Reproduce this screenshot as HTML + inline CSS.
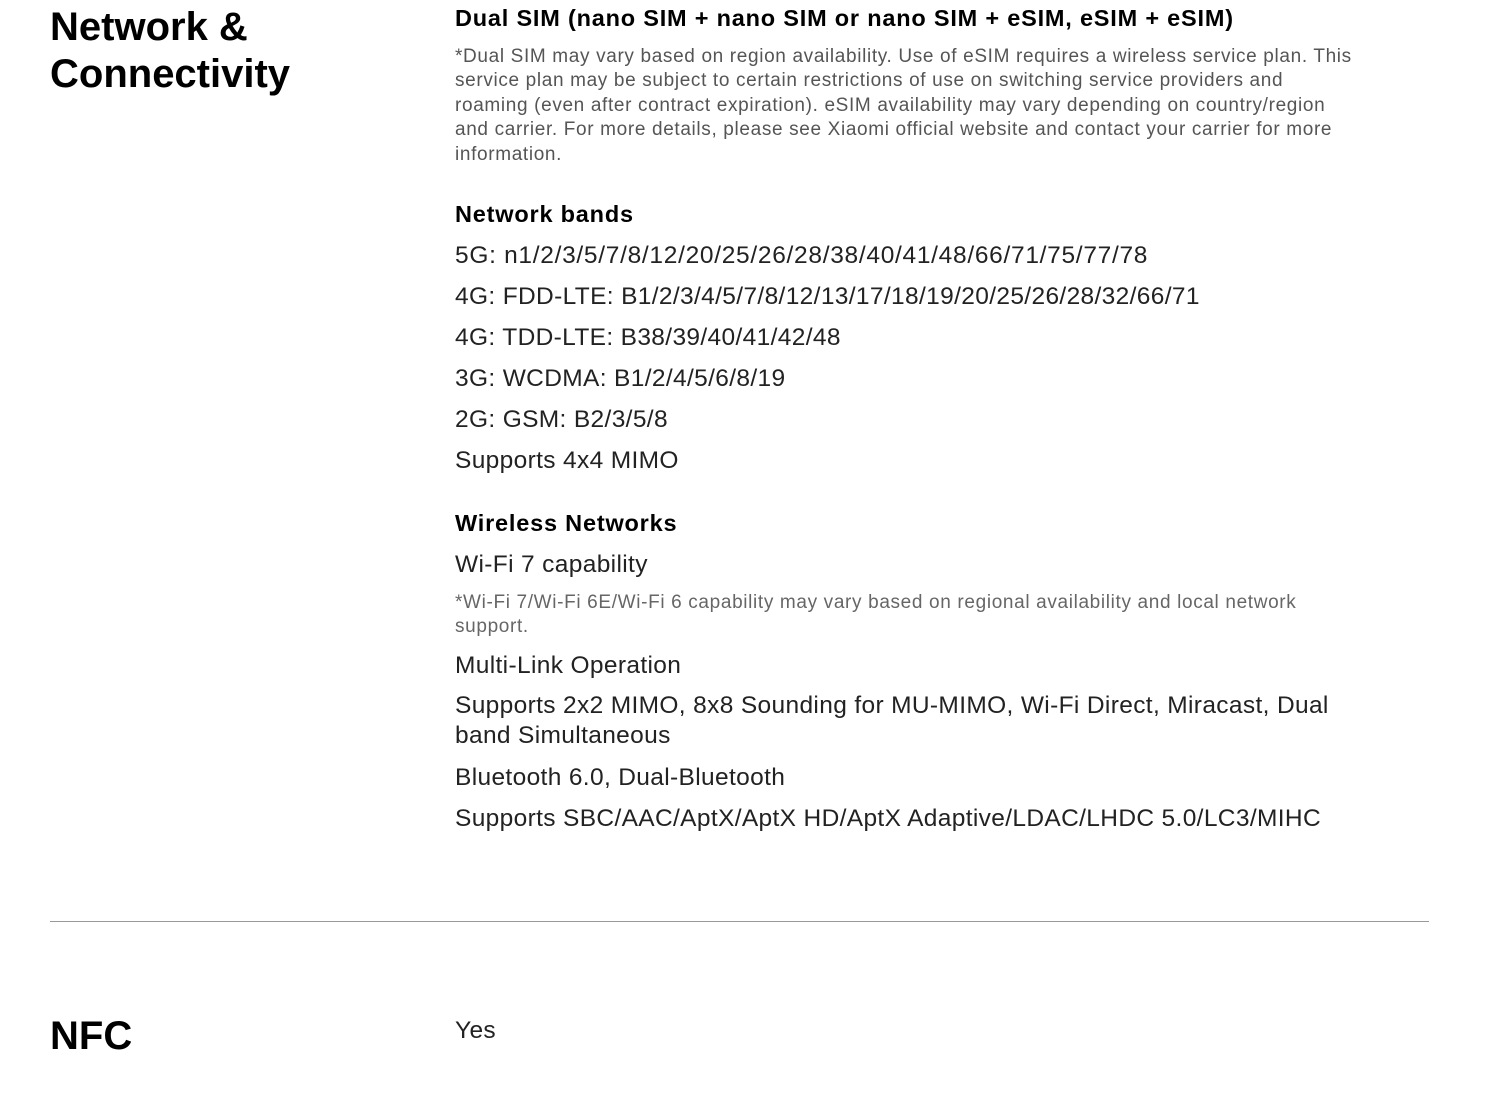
<!DOCTYPE html>
<html><head><meta charset="utf-8"><style>
body{margin:0;width:1504px;height:1109px;background:#fff;font-family:"Liberation Sans",sans-serif;color:#111;position:relative;overflow:hidden}
.a{position:absolute;white-space:nowrap}
.h{font-weight:bold;font-size:40px;left:50px;color:#000}
.t{font-weight:bold;font-size:23.5px;left:455px;color:#000;letter-spacing:0.8px}
.g{font-size:19px;left:455px;color:#555;line-height:24.4px;letter-spacing:0.65px}
.i{font-size:24.5px;left:455px;color:#222;letter-spacing:0.35px}
</style></head><body>
<div class="a h" style="top:4px;line-height:47px">Network &amp;<br>Connectivity</div>
<div class="a t" style="top:5px">Dual SIM (nano SIM + nano SIM or nano SIM + eSIM, eSIM + eSIM)</div>
<div class="a g" style="top:45px">*Dual SIM may vary based on region availability. Use of eSIM requires a wireless service plan. This<br>service plan may be subject to certain restrictions of use on switching service providers and<br>roaming (even after contract expiration). eSIM availability may vary depending on country/region<br>and carrier. For more details, please see Xiaomi official website and contact your carrier for more<br>information.</div>
<div class="a t" style="top:201px">Network bands</div>
<div class="a i" style="top:242px;letter-spacing:0.7px">5G: n1/2/3/5/7/8/12/20/25/26/28/38/40/41/48/66/71/75/77/78</div>
<div class="a i" style="top:283px">4G: FDD-LTE: B1/2/3/4/5/7/8/12/13/17/18/19/20/25/26/28/32/66/71</div>
<div class="a i" style="top:324px">4G: TDD-LTE: B38/39/40/41/42/48</div>
<div class="a i" style="top:365px">3G: WCDMA: B1/2/4/5/6/8/19</div>
<div class="a i" style="top:406px">2G: GSM: B2/3/5/8</div>
<div class="a i" style="top:447px">Supports 4x4 MIMO</div>
<div class="a t" style="top:510px">Wireless Networks</div>
<div class="a i" style="top:551px">Wi-Fi 7 capability</div>
<div class="a g" style="top:591px;color:#666">*Wi-Fi 7/Wi-Fi 6E/Wi-Fi 6 capability may vary based on regional availability and local network<br>support.</div>
<div class="a i" style="top:652px">Multi-Link Operation</div>
<div class="a i" style="line-height:30px;top:691px">Supports 2x2 MIMO, 8x8 Sounding for MU-MIMO, Wi-Fi Direct, Miracast, Dual<br>band Simultaneous</div>
<div class="a i" style="top:764px">Bluetooth 6.0, Dual-Bluetooth</div>
<div class="a i" style="top:805px">Supports SBC/AAC/AptX/AptX HD/AptX Adaptive/LDAC/LHDC 5.0/LC3/MIHC</div>
<div class="a" style="left:50px;top:921px;width:1379px;height:1px;background:#999"></div>
<div class="a h" style="top:1014px">NFC</div>
<div class="a i" style="top:1017px">Yes</div>
</body></html>
